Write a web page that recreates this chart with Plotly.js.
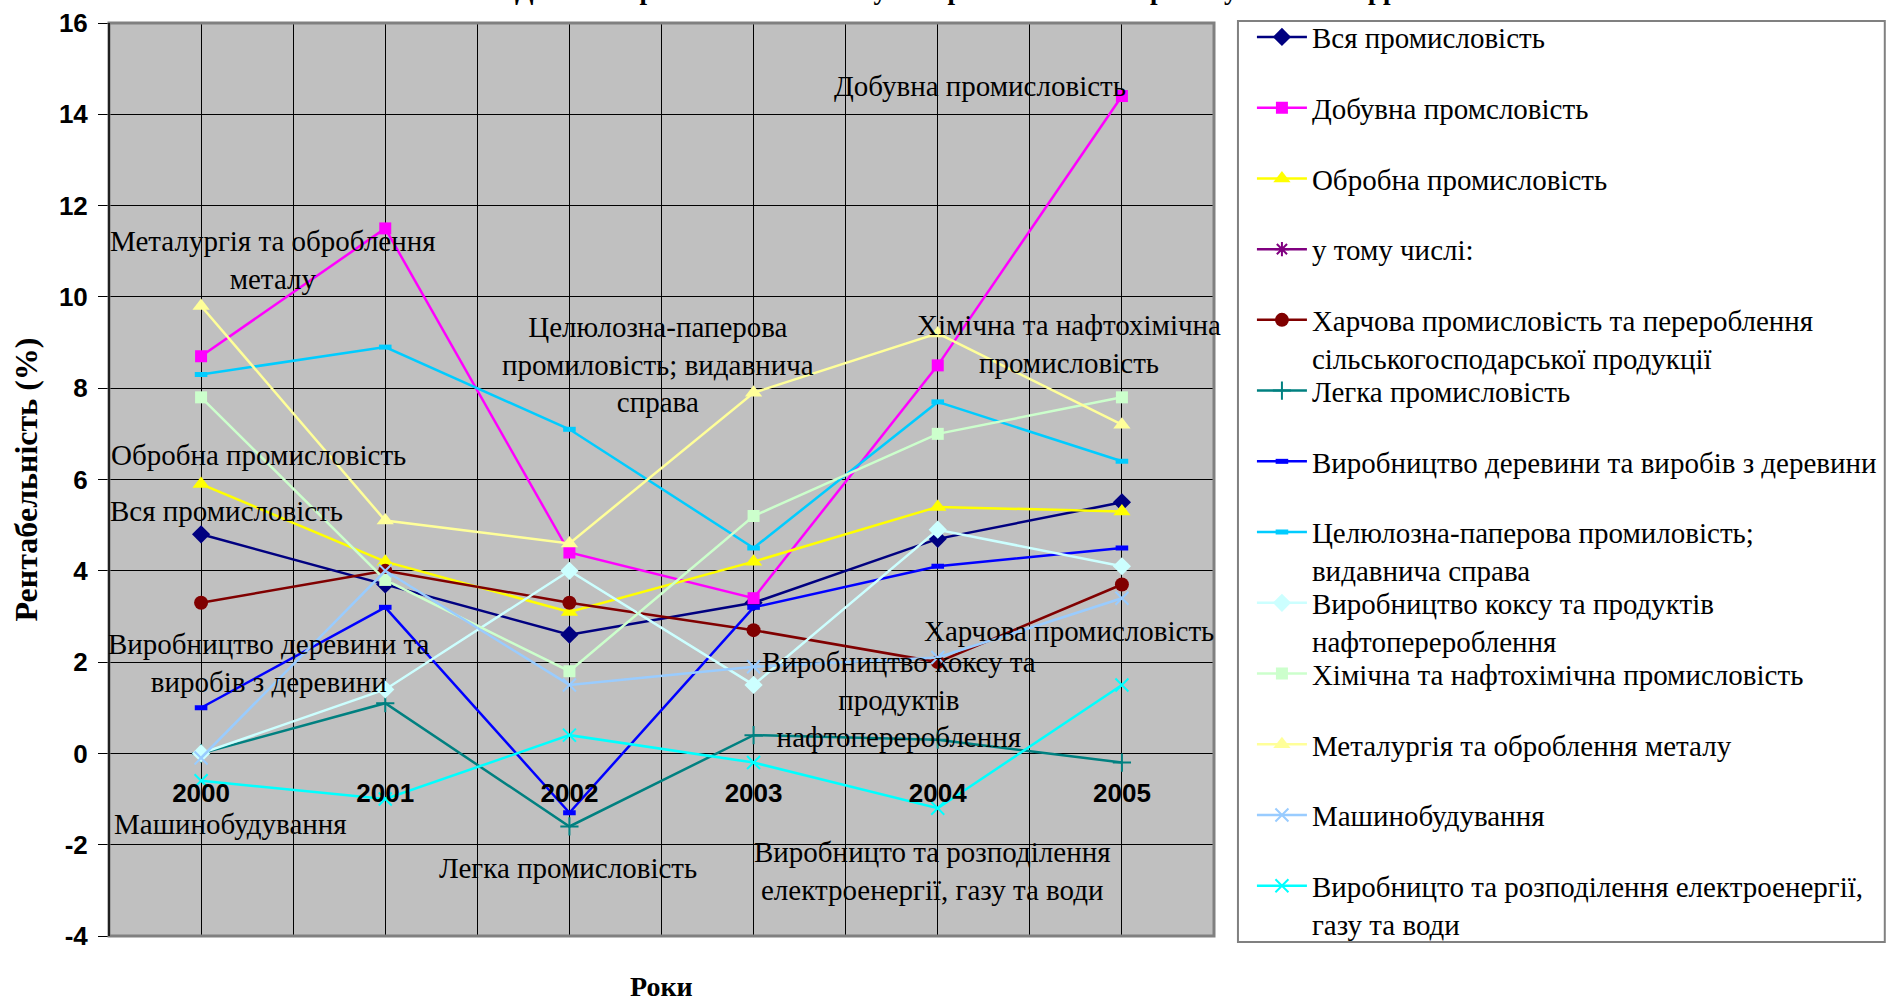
<!DOCTYPE html>
<html>
<head>
<meta charset="utf-8">
<script src="https://cdn.plot.ly/plotly-3.0.1.min.js"></script>
<style>
  html, body { margin: 0; padding: 0; background: #ffffff; }
  #chart { width: 1894px; height: 1001px; }
</style>
</head>
<body>
<div id="chart"></div>
<script>
// ---- data ----
var years = [2000, 2001, 2002, 2003, 2004, 2005];

var seriesNames = [
  'Вся промисловість',
  'Добувна промсловість',
  'Обробна промисловість',
  'у тому числі:',
  'Харчова промисловість та перероблення<br>сільськогосподарської продукції',
  'Легка промисловість',
  'Виробництво деревини та виробів з деревини',
  'Целюлозна-паперова промиловість;<br>видавнича справа',
  'Виробництво коксу та продуктів<br>нафтоперероблення',
  'Хімічна та нафтохімічна промисловість',
  'Металургія та оброблення металу',
  'Машинобудування',
  'Виробницто та розподілення електроенергії,<br>газу та води'
];

var vsya        = [4.8, 3.7, 2.6, 3.3, 4.7, 5.5];
var dobuvna     = [8.7, 11.5, 4.4, 3.4, 8.5, 14.4];
var obrobna     = [5.9, 4.2, 3.1, 4.2, 5.4, 5.3];
var uTomuChysli = [null, null, null, null, null, null];
var kharchova   = [3.3, 4.0, 3.3, 2.7, 2.0, 3.7];
var lehka       = [0.0, 1.1, -1.6, 0.4, 0.3, -0.2];
var derevyna    = [1.0, 3.2, -1.3, 3.2, 4.1, 4.5];
var tseliuloza  = [8.3, 8.9, 7.1, 4.5, 7.7, 6.4];
var koks        = [0.0, 1.4, 4.0, 1.5, 4.9, 4.1];
var khimichna   = [7.8, 3.8, 1.8, 5.2, 7.0, 7.8];
var metalurhiia = [9.8, 5.1, 4.6, 7.9, 9.2, 7.2];
var mashyno     = [-0.1, 4.0, 1.5, 1.9, 2.1, 3.4];
var elektro     = [-0.6, -1.0, 0.4, -0.2, -1.2, 1.5];

var seriesValues = [vsya, dobuvna, obrobna, uTomuChysli, kharchova, lehka, derevyna,
                    tseliuloza, koks, khimichna, metalurhiia, mashyno, elektro];

var yTickVals = [-4, -2, 0, 2, 4, 6, 8, 10, 12, 14, 16];
var yTickText = ['-4', '-2', '0', '2', '4', '6', '8', '10', '12', '14', '16'];

// in-plot series labels
var labelTexts = [
  'Металургія та оброблення<br>металу',
  'Добувна промисловість',
  'Целюлозна-паперова<br>промиловість; видавнича<br>справа',
  'Хімічна та нафтохімічна<br>промисловість',
  'Обробна промисловість',
  'Вся промисловість',
  'Виробництво деревини та<br>виробів з деревини',
  'Машинобудування',
  'Легка промисловість',
  'Виробницто та розподілення<br>електроенергії, газу та води',
  'Харчова промисловість',
  'Виробництво коксу та<br>продуктів<br>нафтоперероблення'
];
var labelX = [2000.39, 2004.23, 2002.48, 2004.71, 2000.31, 2000.14, 2000.37, 2000.16, 2001.99, 2003.97, 2004.71, 2003.79];
var labelY = [10.80, 14.62, 8.51, 8.96, 6.54, 5.31, 1.97, -1.55, -2.50, -2.57, 2.68, 1.18];

var chartTitle = 'Динаміка рентабельності галузей промисловості України у 2000-2005 рр.';
var yTitle = 'Рентабельність (%)';
var xTitle = 'Роки';

// ---- styles ----
var styles = [
  {color: '#000080', symbol: 'diamond', size: 14},
  {color: '#FF00FF', symbol: 'square', size: 12},
  {color: '#FFFF00', symbol: 'triangle-up', size: 15},
  {color: '#800080', symbol: 'asterisk-open', size: 12, lw: 2},
  {color: '#800000', symbol: 'circle', size: 14},
  {color: '#008080', symbol: 'cross-thin-open', size: 13, lw: 2},
  {color: '#0000FF', symbol: 'line-ew-open', size: 9, lw: 5},
  {color: '#00CCFF', symbol: 'line-ew-open', size: 9, lw: 5},
  {color: '#CCFFFF', symbol: 'diamond', size: 14},
  {color: '#CCFFCC', symbol: 'square', size: 12},
  {color: '#FFFF99', symbol: 'triangle-up', size: 15},
  {color: '#99CCFF', symbol: 'x-thin-open', size: 13, lw: 2},
  {color: '#00FFFF', symbol: 'x-thin-open', size: 13, lw: 2}
];

var serif = 'Liberation Serif, Times New Roman, serif';
var sans = 'Liberation Sans, Arial, sans-serif';

// plot area in pixels
var W = 1894, H = 1001;
var mL = 109, mR = 678, mT = 17, mB = 65;
var pw = W - mL - mR, ph = H - mT - mB;
function px2paperX(px) { return (px - mL) / pw; }
function px2paperY(py) { return (H - mB - py) / ph; }

// legend box (px)
var legBox = {x0: 1240, x1: 1888, y0: 15, y1: 942};
var legFirst = 36, legStep = 71.2, legTextOffset = 30.5, legLeft = 1254;

var traces = seriesNames.map(function (name, i) {
  var st = styles[i];
  var marker = {symbol: st.symbol, size: st.size, color: st.color};
  if (st.lw) { marker.line = {color: st.color, width: st.lw}; }
  return {
    type: 'scatter',
    mode: 'lines+markers',
    name: name,
    legend: i === 0 ? 'legend' : 'legend' + (i + 1),
    x: years,
    y: seriesValues[i],
    line: {color: st.color, width: 2.5},
    marker: marker,
    cliponaxis: false
  };
});

// x ticks: labels at years, gridlines also half-way between
var xTickVals = [];
var xTickText = [];
years.forEach(function (yr) {
  xTickVals.push(yr - 0.5); xTickText.push('');
  xTickVals.push(yr); xTickText.push(String(yr));
});
xTickVals.push(years[years.length - 1] + 0.5); xTickText.push('');

var yMin = -4, yMax = 16;

var annotations = labelTexts.map(function (t, i) {
  return {
    text: t, x: labelX[i], y: labelY[i], xref: 'x', yref: 'y',
    showarrow: false, align: 'center', xanchor: 'center', yanchor: 'middle',
    font: {family: serif, size: 29, color: '#000000'}
  };
});
annotations.push({
  text: xTitle, x: 0.5, y: px2paperY(1004), xref: 'paper', yref: 'paper',
  showarrow: false, xanchor: 'center', yanchor: 'bottom',
  font: {family: serif, size: 28, color: '#000000', weight: 'bold'}
});
annotations.push({
  text: chartTitle, x: px2paperX(962), y: px2paperY(-16), xref: 'paper', yref: 'paper',
  showarrow: false, xanchor: 'center', yanchor: 'middle',
  font: {family: serif, size: 27, color: '#000000', weight: 'bold'}
});

var layout = {
  width: W,
  height: H,
  margin: {l: mL, r: mR, t: mT, b: mB},
  paper_bgcolor: '#FFFFFF',
  plot_bgcolor: '#C0C0C0',
  showlegend: true,
  hovermode: false,
  xaxis: {
    type: 'linear',
    range: [1999.5, 2005.5],
    tickvals: xTickVals,
    ticktext: xTickText,
    anchor: 'free',
    position: (0 - yMin) / (yMax - yMin),
    showline: false,
    zeroline: false,
    showgrid: true,
    gridcolor: '#000000',
    gridwidth: 1,
    ticks: 'outside',
    ticklen: 16,
    tickcolor: 'rgba(0,0,0,0)',
    tickfont: {family: sans, size: 26, color: '#000000', weight: 'bold'},
    automargin: false,
    fixedrange: true
  },
  yaxis: {
    range: [yMin, yMax],
    tickvals: yTickVals,
    ticktext: yTickText,
    showgrid: true,
    gridcolor: '#000000',
    gridwidth: 1,
    zeroline: true,
    zerolinecolor: '#000000',
    zerolinewidth: 1,
    showline: true,
    linecolor: '#000000',
    linewidth: 1,
    ticks: 'outside',
    ticklen: 10,
    tickcolor: '#000000',
    ticklabelstandoff: 5,
    tickfont: {family: sans, size: 26, color: '#000000', weight: 'bold'},
    title: {text: yTitle, standoff: 11, font: {family: serif, size: 32, color: '#000000', weight: 'bold'}},
    automargin: false,
    fixedrange: true
  },
  shapes: [{
    type: 'rect', xref: 'paper', yref: 'paper', x0: 0, x1: 1, y0: 0, y1: 1,
    line: {color: '#808080', width: 3}, layer: 'above'
  }, {
    type: 'line', xref: 'paper', yref: 'paper', x0: 0, x1: 0, y0: 0, y1: 1,
    line: {color: '#000000', width: 1.5}, layer: 'above'
  }, {
    type: 'rect', xref: 'paper', yref: 'paper',
    x0: px2paperX(legBox.x0), x1: px2paperX(legBox.x1),
    y0: px2paperY(legBox.y1), y1: px2paperY(legBox.y0),
    line: {color: '#808080', width: 2}, fillcolor: 'rgba(0,0,0,0)', layer: 'above'
  }],
  annotations: annotations
};

// one legend per series so every entry sits at its own row, like the reference
seriesNames.forEach(function (name, i) {
  var key = i === 0 ? 'legend' : 'legend' + (i + 1);
  var top = legFirst + legStep * i - legTextOffset;
  layout[key] = {
    x: px2paperX(legLeft),
    y: px2paperY(top),
    xanchor: 'left',
    yanchor: 'top',
    bgcolor: 'rgba(0,0,0,0)',
    borderwidth: 0,
    valign: 'top',
    itemwidth: 50,
    maxheight: 400,
    font: {family: serif, size: 29, color: '#000000'}
  };
});

Plotly.newPlot('chart', traces, layout, {displayModeBar: false, staticPlot: true});
</script>
</body>
</html>
